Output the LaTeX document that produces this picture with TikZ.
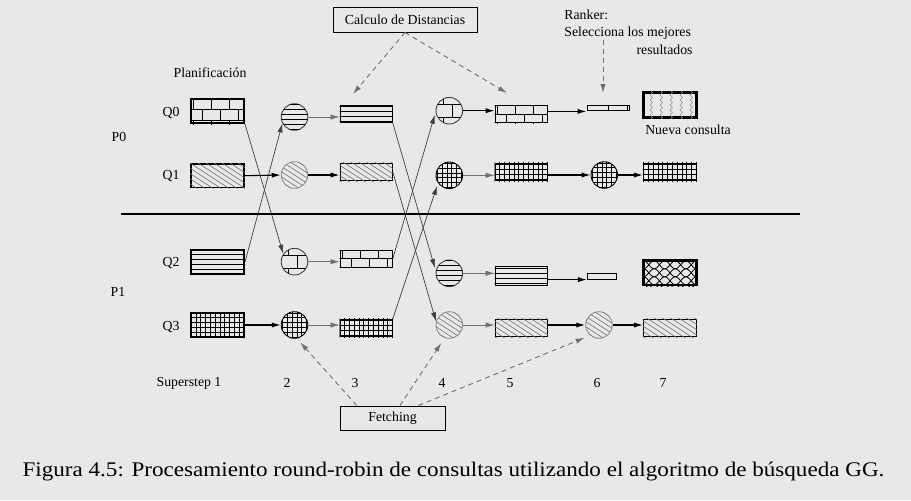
\documentclass[tikz,border=0pt]{standalone}
\usepackage{graphicx}
\usepackage{fontspec}
\setmainfont{Liberation Serif}
\usetikzlibrary{arrows.meta}

\definecolor{bgray}{HTML}{E8E8E8}
\definecolor{dgray}{HTML}{404040}
\definecolor{mgray}{HTML}{707070}
\definecolor{lgray}{HTML}{909090}

\tikzset{
  lbl/.style={font=\fontsize{6.9}{8}\selectfont, inner sep=0pt},
  box/.style={draw, line width=0.6pt, inner sep=0pt, minimum width=26pt, minimum height=8.6pt},
  qbox/.style={box, line width=1pt, minimum width=26.5pt, minimum height=12pt},
  ball/.style={circle, draw=dgray, line width=0.45pt, inner sep=0pt, minimum size=13.3pt},
  patline/.style={line width=0.4pt, black},
  gridline/.style={line width=0.35pt, black},
  diagline/.style={line width=0.3pt, mgray},
  zigline/.style={line width=0.3pt, lgray},
  arr/.style={-{Latex[length=4.5pt,width=2.6pt]}, line width=0.55pt},
  thinarr/.style={-{Latex[length=4.5pt,width=2.6pt]}, line width=0.3pt, mgray},
  cross/.style={-{Latex[length=4.5pt,width=2.6pt]}, line width=0.35pt, dgray},
  dasharr/.style={-{Latex[length=4.5pt,width=2.6pt]}, dashed, dash pattern=on 2.5pt off 2pt, line width=0.45pt, mgray}
}

\def\crad{6.65pt}
% clipping helpers
\newcommand{\rectclip}[1]{\clip (#1.south west) rectangle (#1.north east);}
\newcommand{\circclip}[1]{\clip (#1.center) circle (\crad);}

% fill patterns, drawn round the centre of a node
\newcommand{\hlines}[2]{%
  \begin{scope}
    #2{#1}
    \begin{scope}[shift={(#1.center)}]
      \foreach \k in {-17.5,-12.5,...,17.5}
        \draw[patline] (-30,\k) -- (30,\k);
    \end{scope}
  \end{scope}}
\newcommand{\dlines}[2]{%
  \begin{scope}
    #2{#1}
    \begin{scope}[shift={(#1.center)}]
      \foreach \k in {-64,-56,...,64}
        \draw[diagline] ({\k-20},-13) -- ({\k+20},13);
    \end{scope}
  \end{scope}}
\newcommand{\gridpat}[2]{%
  \begin{scope}
    #2{#1}
    \begin{scope}[shift={(#1.center)}]
      \foreach \k in {-31.2,-26.4,...,31.2} {
        \draw[gridline] (\k,-20) -- (\k,20);
        \draw[gridline] (-30,\k) -- (30,\k);
      }
    \end{scope}
  \end{scope}}
\newcommand{\bricks}[4]{% node, clip, row height, top of first row
  \begin{scope}
    #2{#1}
    \begin{scope}[shift={(#1.center)}]
      \foreach \r in {0,...,4} {
        \pgfmathsetmacro{\ytop}{#4+\r*#3}
        \pgfmathsetmacro{\xoff}{12-9*mod(\r,2)}
        \draw[patline] (-30,\ytop) -- (30,\ytop);
        \foreach \j in {-3,...,2}
          \draw[patline] ({\xoff+\j*18},\ytop) -- ++(0,#3);
      }
    \end{scope}
  \end{scope}}
\newcommand{\zigzag}[2]{%
  \begin{scope}
    #2{#1}
    \begin{scope}[shift={(#1.center)}]
      \foreach \k in {-20,-10,...,20}
        \draw[zigline] (\k,-15) \foreach \s in {1,...,6} { -- ++(2.5,2.5) -- ++(-2.5,2.5) };
    \end{scope}
  \end{scope}}
\newcommand{\wavepat}[2]{%
  \begin{scope}
    #2{#1}
    \begin{scope}[shift={(#1.center)}]
      \foreach \k in {-16,-8,...,16} {
        \draw[patline] plot[domain=-30:30, samples=61, smooth] (\x,{\k+4*sin(17*\x)});
        \draw[patline] plot[domain=-30:30, samples=61, smooth] (\x,{\k-4*sin(17*\x)});
      }
    \end{scope}
  \end{scope}}

\begin{document}
\begin{tikzpicture}[x=0.5pt,y=-0.5pt]
  \fill[bgray] (0,0) rectangle (911,500);
  \useasboundingbox (0,0) rectangle (911,500);

  % labels on the left
  \node[lbl] (plan) at (210,73) {Planificación};
  \node[lbl] (p0) at (119,137) {P0};
  \node[lbl] (p1) at (118,292) {P1};
  \foreach \q/\y in {0/113,1/176,2/263,3/327}
    \node[lbl] (lq\q) at (171,\y) {Q\q};

  % superstep numbers
  \node[lbl] (ss1) at (189,383) {Superstep 1};
  \foreach \s/\x in {2/287,3/355,4/442,5/510,6/597,7/663}
    \node[lbl] (ss\s) at (\x,383) {\s};

  % superstep 1: queries waiting
  \node[qbox] (q0) at (217.5,111) {};
  \node[qbox, line width=0.8pt, minimum height=11.7pt] (q1) at (217.5,175.7) {};
  \node[qbox] (q2) at (217.5,262) {};
  \node[qbox, line width=0.9pt, minimum height=11.7pt] (q3) at (217.5,325) {};

  % superstep 2
  \node[ball] (c20) at (294.5,117) {};
  \node[ball, draw=lgray] (c21) at (294.5,175) {};
  \node[ball] (c22) at (294.5,261.7) {};
  \node[ball, draw=black] (c23) at (294.5,325) {};

  % superstep 3
  \node[box] (b30) at (366.2,114) {};
  \node[box] (b31) at (366.2,172) {};
  \node[box] (b32) at (366.2,258.7) {};
  \node[box] (b33) at (366.2,328) {};

  % superstep 4
  \node[ball] (c40) at (449.3,110.7) {};
  \node[ball, draw=black] (c41) at (449.3,175.3) {};
  \node[ball] (c42) at (449.3,273.3) {};
  \node[ball, draw=lgray] (c43) at (449.3,325) {};

  % superstep 5
  \node[box] (b50) at (521.2,114) {};
  \node[box] (b51) at (521.2,172) {};
  \node[box, minimum height=9.5pt] (b52) at (521.2,276.2) {};
  \node[box] (b53) at (521.2,328) {};

  % superstep 6
  \node[box, line width=0.5pt, minimum width=21pt, minimum height=2.9pt] (bar0) at (608,108) {};
  \node[ball, draw=black] (c61) at (604.3,175) {};
  \node[box, line width=0.5pt, minimum width=14.3pt, minimum height=2.9pt] (bar2) at (601.7,276.2) {};
  \node[ball, draw=lgray] (c63) at (599,325) {};

  % superstep 7
  \node[box, line width=1.4pt, minimum width=26.5pt, minimum height=12.3pt] (nueva) at (670,105) {};
  \node[box, minimum width=26.5pt] (b71) at (670,172) {};
  \node[box, line width=1.4pt, minimum width=26.5pt, minimum height=12.2pt] (b72) at (670,272.8) {};
  \node[box, minimum width=26.5pt] (b73) at (670,328) {};

  % fill patterns: bricks Q0, lines Q2, hatch Q1, grid Q3
  \foreach \n/\h/\t in {q0/10.5/-12, b32/8.6/-8.6, b50/8.8/-8.8}
    \bricks{\n}{\rectclip}{\h}{\t};
  \foreach \n in {c22,c40}
    \bricks{\n}{\circclip}{12.6}{-18.9};
  \draw[patline] (bar0.north) -- (bar0.south);
  \draw[patline] ([xshift=-1.2pt]bar0.north east) -- ([xshift=-1.2pt]bar0.south east);
  \foreach \n in {q2,b30,b52}
    \hlines{\n}{\rectclip};
  \foreach \n in {c20,c42}
    \hlines{\n}{\circclip};
  \foreach \n in {q1,b31,b53,b73}
    \dlines{\n}{\rectclip};
  \foreach \n in {c21,c43,c63}
    \dlines{\n}{\circclip};
  \foreach \n in {q3,b33,b51,b71}
    \gridpat{\n}{\rectclip};
  \foreach \n in {c23,c41,c61}
    \gridpat{\n}{\circclip};
  \zigzag{nueva}{\rectclip}
  \wavepat{b72}{\rectclip}

  % arrows along the rows
  \draw[thinarr] (c20.east) -- (c20.east -| b30.west);
  \draw[arr] (c40.east) -- (c40.east -| b50.west);
  \draw[arr] (b50.east |- bar0.south) -- (bar0.south west);
  \draw[arr] (q1.east) -- (c21.west);
  \draw[arr] (c21.east) -- (c21.east -| b31.west);
  \draw[thinarr] (c41.east) -- (c41.east -| b51.west);
  \draw[arr] (c61.west -| b51.east) -- (c61.west);
  \draw[arr] (c61.east) -- (c61.east -| b71.west);
  \draw[thinarr] (c22.east) -- (c22.east -| b32.west);
  \draw[thinarr] (c42.east) -- (c42.east -| b52.west);
  \draw[arr] (b52.east |- bar2.south) -- (bar2.south west);
  \draw[arr] (q3.east) -- (c23.west);
  \draw[thinarr] (c23.east) -- (c23.east -| b33.west);
  \draw[thinarr] (c43.east) -- (c43.east -| b53.west);
  \draw[arr] (c63.west -| b53.east) -- (c63.west);
  \draw[arr] (c63.east) -- (c63.east -| b73.west);

  % queries moving between P0 and P1
  \draw[cross] (q0.south east) -- (c22.145);
  \draw[cross] (q2.east) -- (c20.208);
  \draw[cross, shorten >=1.5pt] (b30.south east) -- (c42.170);
  \draw[cross] (b31.east) -- (c43.165);
  \draw[cross, shorten >=1.5pt] (b32.east) -- (c40.185);
  \draw[cross, shorten >=1.5pt] (b33.north east) -- (c41.215);

  % separator between the two processors
  \coordinate (sepL) at (121,214);
  \coordinate (sepR) at (800,214);
  \draw[line width=1.3pt] (sepL) -- (sepR);

  % notes with dashed arrows
  \node[draw, lbl, line width=0.5pt, minimum width=72pt, minimum height=12.5pt] (calc) at (405,19.5) {Calculo de Distancias};
  \coordinate (calcA) at (353,94);
  \coordinate (calcB) at (507,93);
  \draw[dasharr] (calc.south) -- (calcA);
  \draw[dasharr] (calc.south) -- (calcB);

  \node[lbl, anchor=west] (ranker) at (564,15) {Ranker:};
  \node[lbl, anchor=west] (selec) at (564,33) {Selecciona los mejores};
  \node[lbl, anchor=east] (result) at (693,50) {resultados};
  \coordinate (rankA) at (603,93);
  \draw[dasharr] (rankA |- selec.south) -- (rankA);

  \node[lbl] (nuevalbl) at (688,130) {Nueva consulta};

  \node[draw, lbl, line width=0.5pt, minimum width=52.5pt, minimum height=12pt] (fetch) at (392.5,418) {Fetching};
  \draw[dasharr, shorten >=2.5pt] ([xshift=-17.9pt]fetch.north) -- (c23.-80);
  \draw[dasharr, shorten >=3pt] ([xshift=3.7pt]fetch.north) -- (c43.-110);
  \draw[dasharr, shorten >=3pt] ([xshift=12.9pt]fetch.north) -- (c63.-130);

  % caption
  \node[font=\fontsize{10.4}{12}\selectfont, inner sep=0pt] (caption) at (453.5,472)
    {\scalebox{1.11}[1]{Figura 4.5: Procesamiento round-robin de consultas utilizando el algoritmo de búsqueda GG.}};
\end{tikzpicture}
\end{document}
